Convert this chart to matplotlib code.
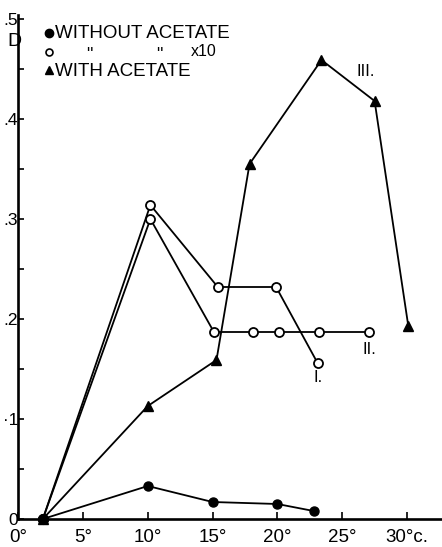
import matplotlib
matplotlib.use("Agg")
import matplotlib.pyplot as plt

plt.rcParams['font.family'] = ['Liberation Sans', 'DejaVu Sans']

# temperature (deg C) and optical density D
temp_without = [1.9, 10.0, 15.0, 20.0, 22.8]
d_without = [0.0, 0.033, 0.017, 0.015, 0.008]

temp_I = [1.9, 10.2, 15.4, 19.9, 23.1]
d_I = [0.0, 0.314, 0.232, 0.232, 0.156]

temp_II = [1.9, 10.2, 15.1, 18.1, 20.1, 23.2, 27.1]
d_II = [0.0, 0.300, 0.187, 0.187, 0.187, 0.187, 0.187]

temp_III = [1.9, 10.0, 15.3, 17.85, 23.4, 27.5, 30.1]
d_III = [0.0, 0.113, 0.159, 0.355, 0.459, 0.418, 0.193]

x_ticks = [0, 5, 10, 15, 20, 25, 30]
x_labels = ["0°", "5°", "10°", "15°", "20°", "25°", "30°c."]
y_ticks = [0, 0.1, 0.2, 0.3, 0.4, 0.5]
y_labels = ["0", "·1", ".2", ".3", ".4", ".5"]

W, H = 442, 547
fig = plt.figure(figsize=(W / 100, H / 100), dpi=100)
ax = fig.add_axes([18.2 / W, (H - 519) / H, 1 - 18.2 / W, 504 / H])
ax.set_xlim(0, (W - 18.2) / 12.96)
ax.set_ylim(0, 0.504)

lw = 1.3
ax.plot(temp_without, d_without, color='black', lw=lw, marker='o', ms=6.5,
        mfc='black', mec='black', clip_on=False, zorder=3)
ax.plot(temp_I, d_I, color='black', lw=lw, marker='o', ms=6.5,
        mfc='white', mec='black', mew=1.3, clip_on=False, zorder=3)
ax.plot(temp_II, d_II, color='black', lw=lw, marker='o', ms=6.5,
        mfc='white', mec='black', mew=1.3, clip_on=False, zorder=3)
ax.plot(temp_III, d_III, color='black', lw=lw, marker='^', ms=6.5,
        mfc='black', mec='black', clip_on=False, zorder=3)
# first point drawn on top
ax.plot(temp_without[:1], d_without[:1], 'o', color='black', ms=7, clip_on=False, zorder=4)

ax.text(23.1, 0.141, "I.", fontsize=12, ha='center', va='center')
ax.text(27.1, 0.169, "II.", fontsize=12, ha='center', va='center')
ax.text(26.8, 0.447, "III.", fontsize=12, ha='center', va='center')

for s in ['top', 'right']:
    ax.spines[s].set_visible(False)
for s in ['left', 'bottom']:
    ax.spines[s].set_linewidth(1.9)

ax.set_xticks(x_ticks, x_labels, fontsize=13.5)
ax.set_yticks(y_ticks, y_labels, fontsize=12.5)
ax.set_yticks([0.05, 0.15, 0.25, 0.35, 0.45], minor=True)
ax.tick_params(axis='x', direction='in', length=5, width=1.2, pad=7)
ax.tick_params(axis='y', direction='in', length=4, width=1.2, pad=0)
ax.tick_params(axis='y', which='minor', direction='in', length=4, width=1.2)

# D label and legend
def fx(px):
    return px / W

def fy(py):
    return 1 - py / H

fig.text(fx(14), fy(41), "D", fontsize=14, ha='center', va='center')

fig.lines.append(plt.Line2D([fx(49)], [fy(33)], marker='o', ms=6, color='black',
                            transform=fig.transFigure))
fig.lines.append(plt.Line2D([fx(49)], [fy(52)], marker='o', ms=5, mfc='white',
                            mec='black', mew=1.2, transform=fig.transFigure))
fig.lines.append(plt.Line2D([fx(49)], [fy(70)], marker='^', ms=5.5, color='black',
                            transform=fig.transFigure))
fig.text(fx(55), fy(33), "WITHOUT ACETATE", fontsize=13.5, ha='left', va='center')
fig.text(fx(55), fy(71), "WITH ACETATE", fontsize=13.5, ha='left', va='center')
fig.text(fx(89), fy(55), '"', fontsize=13, ha='center', va='center')
fig.text(fx(159), fy(55), '"', fontsize=13, ha='center', va='center')
fig.text(fx(191), fy(51), "x10", fontsize=11.5, ha='left', va='center')

fig.savefig("out.png", dpi=100)
